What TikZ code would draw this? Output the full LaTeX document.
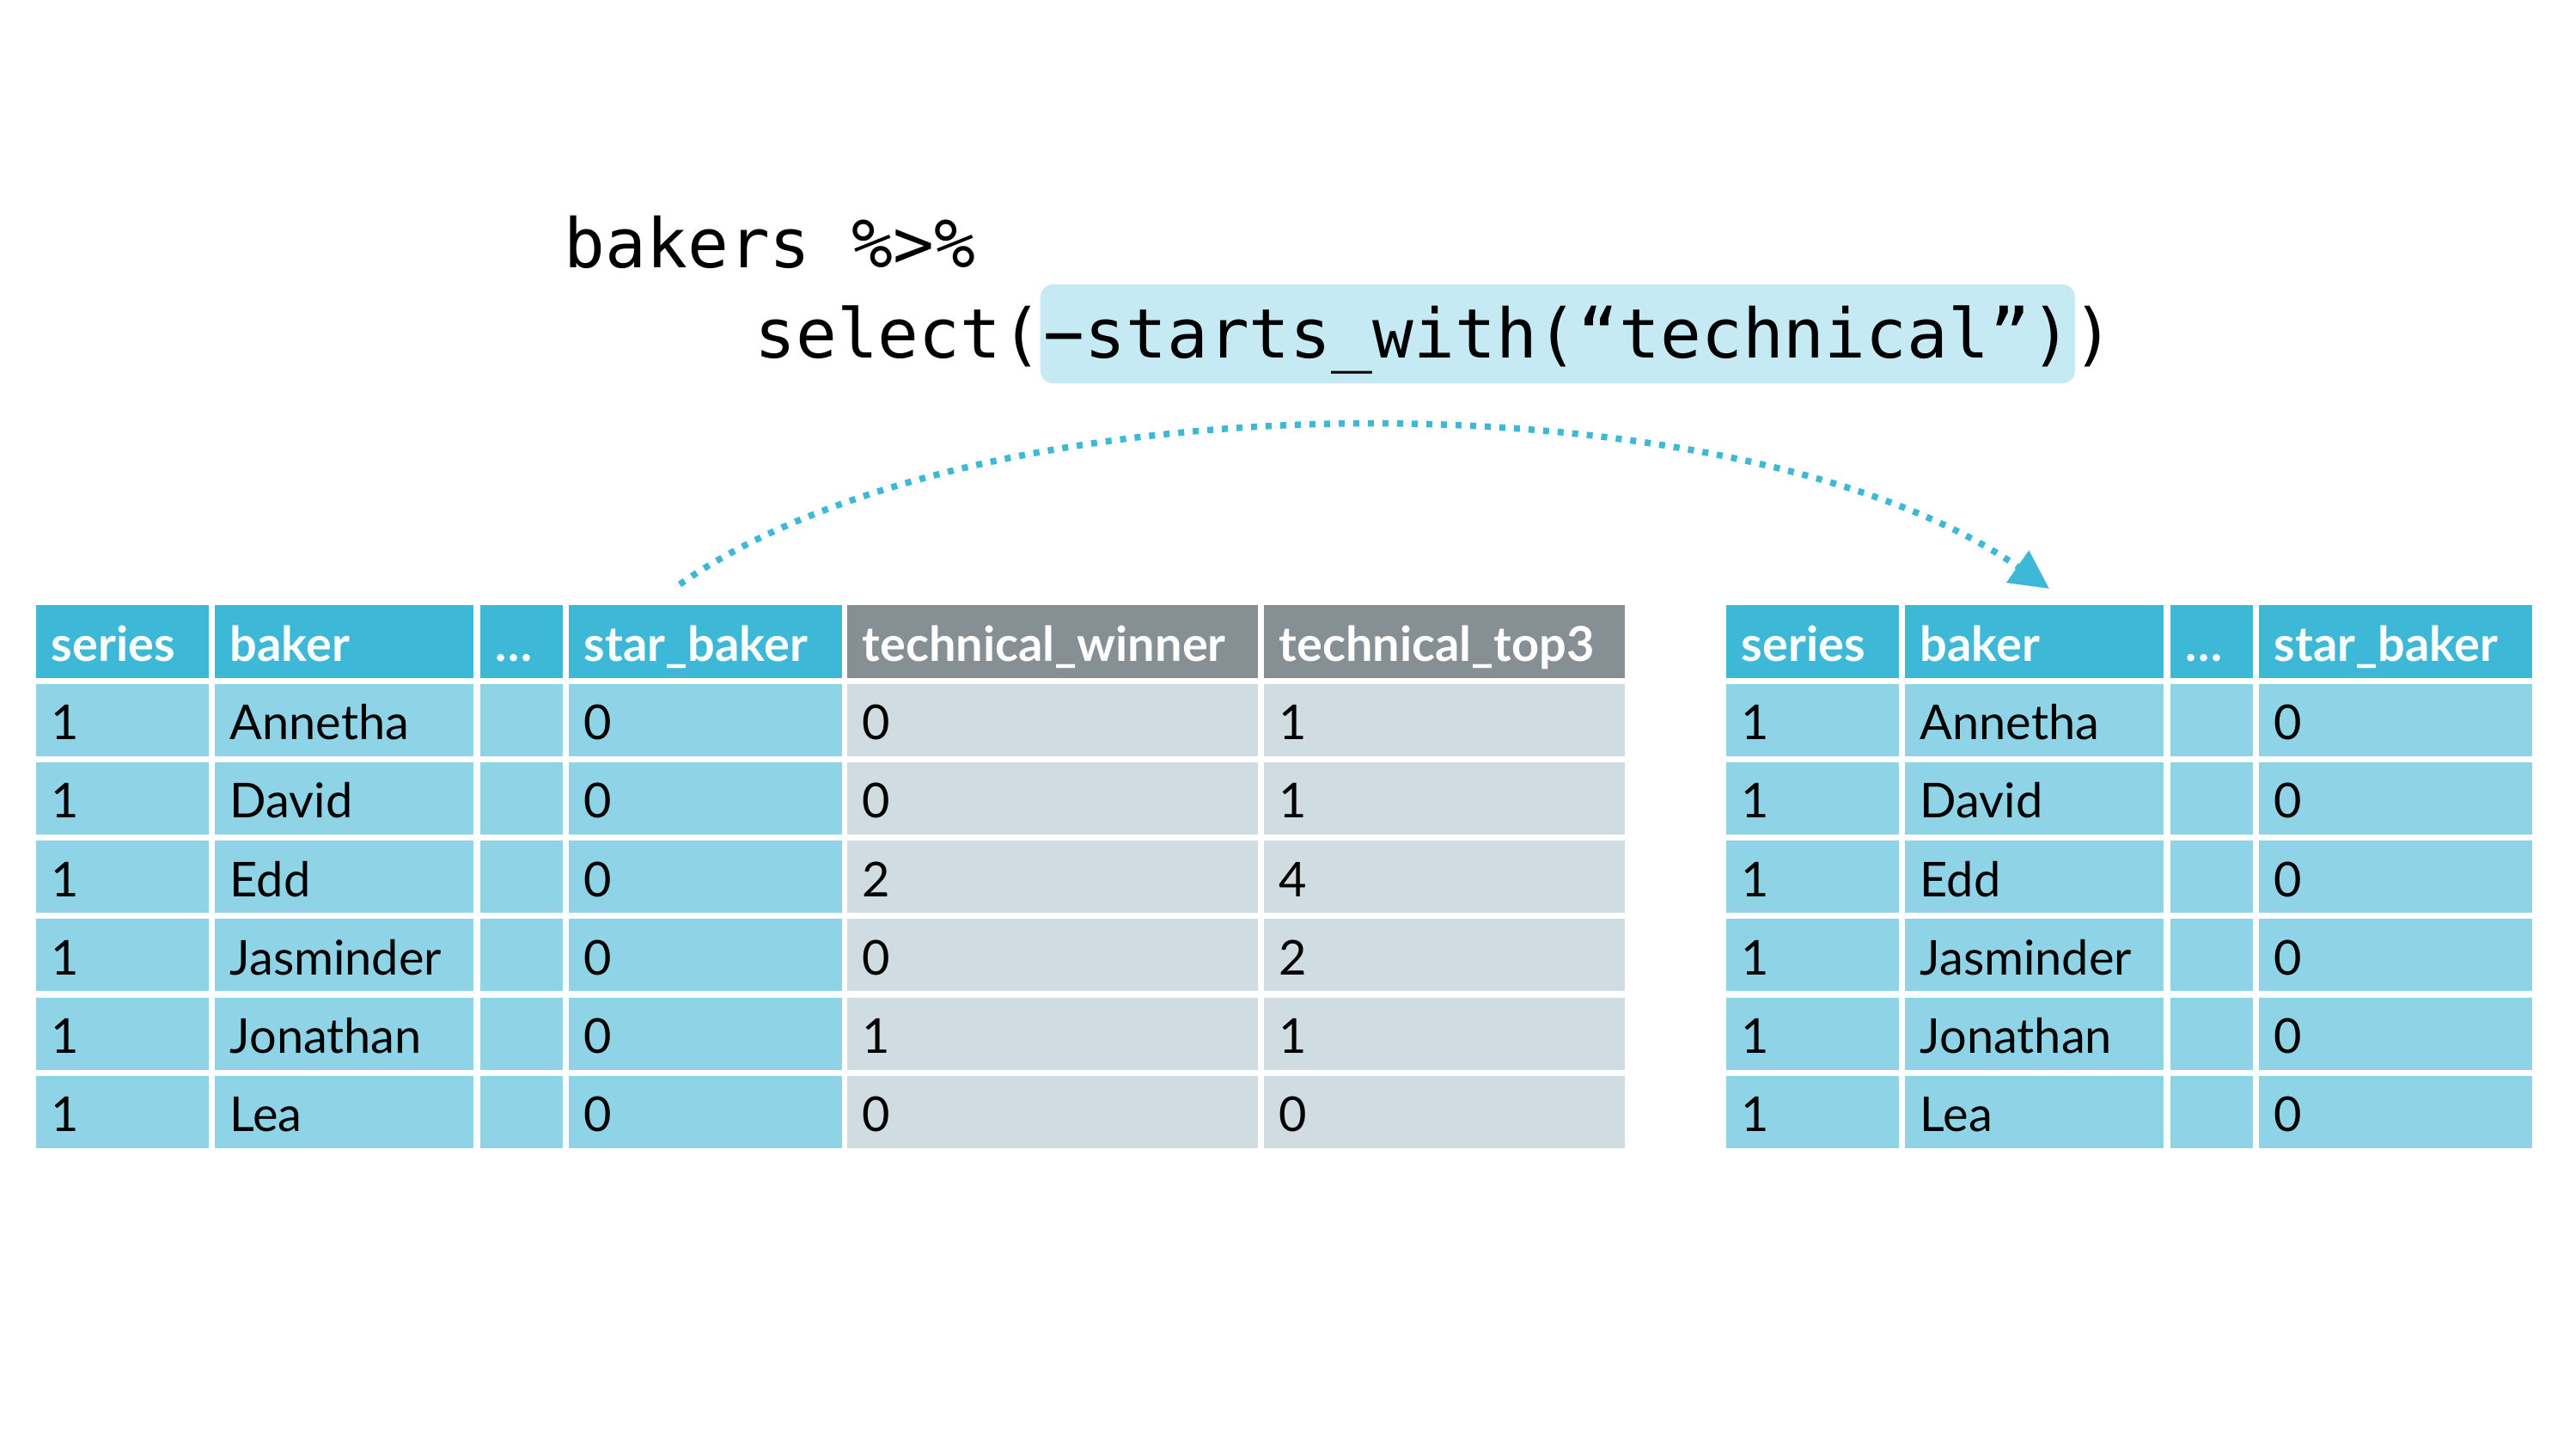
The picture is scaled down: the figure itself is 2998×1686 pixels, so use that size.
\documentclass[tikz,border=0pt]{standalone}
\usepackage{fontspec}
\setmainfont{Lato}
\setmonofont{DejaVu Sans Mono}
\usetikzlibrary{arrows.meta}

\definecolor{hdrblue}{HTML}{3DB8D7}
\definecolor{rowblue}{HTML}{8FD4E6}
\definecolor{hdrgray}{HTML}{868F93}
\definecolor{rowgray}{HTML}{CFDCE2}
\definecolor{hilite}{HTML}{C6EAF3}

\tikzset{
  cell/.style={rectangle, anchor=north west, inner xsep=0.18cm, inner ysep=0pt, align=left, text depth=0.19cm},
  head/.style={cell, fill=hdrblue, text=white, text height=0.66cm, font=\fontsize{15.9}{19}\selectfont\bfseries},
  body/.style={cell, fill=rowblue, text height=0.65cm, font=\fontsize{15.9}{19}\selectfont},
  headgray/.style={head, fill=hdrgray},
  bodygray/.style={body, fill=rowgray},
  code/.style={inner sep=0pt, font=\ttfamily\fontsize{22.6}{27}\selectfont},
  link/.style={draw=hdrblue, line width=0.075cm, dash pattern=on 0.07cm off 0.1cm, -{Triangle[length=0.45cm,width=0.44cm]}}
}

\begin{document}
\begin{tikzpicture}[x=0.01cm, y=-0.01cm]
    \useasboundingbox (0,0) rectangle (2998,1686);

    % the pipe
    \node[code, anchor=base west] (pipe) at (656,312) {bakers \%>\%};
    \node[code, anchor=base west, fill=hilite, rounded corners=0.15cm, inner xsep=0.04cm, text height=0.86cm, text depth=0.29cm] (sel) at (1210,417) {−starts\_with(“technical”)};
    \node[code, anchor=base east] (fn) at ([xshift=0.04cm]sel.base west) {select(};
    \node[code, anchor=base west] (close) at ([xshift=-0.04cm]sel.base east) {)};

    % headers, left and right table
    \foreach \x/\w/\t [count=\c, evaluate=\w as \tw using \w-0.36] in {41/2.01/series, 249/3.01/baker, 558/0.96/…, 661/3.18/star\_baker} {
        \node[head, text width=\tw cm] (lh\c) at (\x,703) {\t};
        \node[head, text width=\tw cm] (rh\c) at (\x+1967,703) {\t};
    }
    \node[headgray, text width=4.42cm] (lh5) at (985,703) {technical\_winner};
    \node[headgray, text width=3.84cm] (lh6) at (1470,703) {technical\_top3};

    % rows
    \foreach \n/\wn/\tp [count=\r, evaluate=\r as \y using 795+91.2*(\r-1)] in {Annetha/0/1, David/0/1, Edd/2/4, Jasminder/0/2, Jonathan/1/1, Lea/0/0} {
        \foreach \dx/\s in {0/l, 1967/r} {
            \node[body, text width=1.65cm] (\s\r-1) at (41+\dx,\y) {1};
            \node[body, text width=2.65cm] (\s\r-2) at (249+\dx,\y) {\n};
            \node[body, text width=0.60cm] (\s\r-3) at (558+\dx,\y) {};
            \node[body, text width=2.82cm] (\s\r-4) at (661+\dx,\y) {0};
        }
        \node[bodygray, text width=4.42cm] (l\r-5) at (985,\y) {\wn};
        \node[bodygray, text width=3.84cm] (l\r-6) at (1470,\y) {\tp};
    }

    % select arrow
    \coordinate (arcfrom) at (791,680);
    \coordinate (arcto) at (2385,685);
    \draw[link] (arcfrom) .. controls (1147,431) and (2029,436) .. (arcto);
\end{tikzpicture}
\end{document}
